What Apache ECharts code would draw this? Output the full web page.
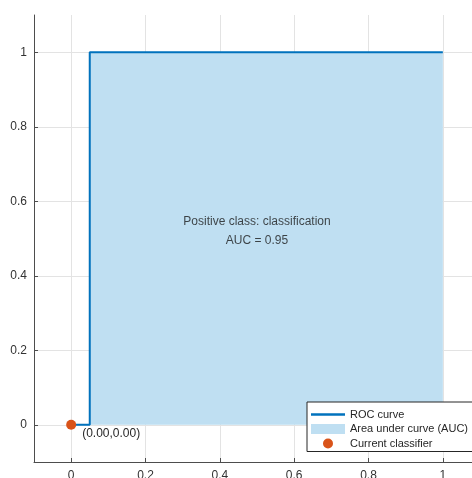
<!DOCTYPE html>
<html>
<head>
<meta charset="utf-8">
<script src="https://cdn.jsdelivr.net/npm/echarts@6/dist/echarts.min.js"></script>
<style>
  html, body { margin: 0; padding: 0; background: #fff; }
  #chart { width: 472px; height: 478px; }
</style>
</head>
<body>
<div id="chart"></div>
<script>
// ROC curve points (false positive rate, true positive rate)
const fpr = [0, 0.05, 0.05, 1];
const tpr = [0, 0, 1, 1];
// operating point of the current classifier
const classifierPoint = [0, 0];
// tick values on both axes
const tickValues = [0, 0.2, 0.4, 0.6, 0.8, 1];
const axisRange = [-0.1, 1.1];
// legend entries and annotation text
const seriesNames = ['ROC curve', 'Area under curve (AUC)', 'Current classifier'];
const positiveClass = 'classification';
const aucValue = 0.95;
const annotationPos = [0.5, 0.52];

const FONT = 'Arial, "Liberation Sans", Helvetica, sans-serif';
const rocData = fpr.map((x, i) => [x, tpr[i]]);

function makeAxis(isX) {
  return {
    type: 'value',
    min: axisRange[0],
    max: axisRange[1],
    axisLine: { show: true, onZero: false, lineStyle: { color: '#4d4d4d', width: 1 } },
    axisTick: { show: true, inside: true, length: 4, customValues: tickValues, lineStyle: { color: '#4d4d4d' } },
    axisLabel: {
      customValues: tickValues,
      margin: isX ? 8 : 7,
      color: '#333',
      fontSize: 12,
      fontFamily: FONT,
      formatter: v => String(Math.round(v * 10) / 10)
    },
    splitLine: { show: true, lineStyle: { color: '#e3e3e3', width: 1 } }
  };
}

const chart = echarts.init(document.getElementById('chart'), null, { renderer: 'canvas' });
chart.setOption({
  animation: false,
  backgroundColor: '#fff',
  grid: { left: 34, top: 15, width: 446, height: 447, containLabel: false, outerBoundsMode: 'none' },
  xAxis: makeAxis(true),
  yAxis: makeAxis(false),
  legend: {
    orient: 'vertical',
    left: 307,
    top: 402,
    padding: [5.5, 5, 1, 4],
    itemWidth: 34,
    itemHeight: 10,
    itemGap: 0.5,
    backgroundColor: '#fff',
    borderColor: '#262626',
    borderWidth: 1,
    borderRadius: 0,
    symbolKeepAspect: true,
    textStyle: { fontSize: 11, lineHeight: 14, color: '#262626', fontFamily: FONT },
    data: [
      { name: seriesNames[0], icon: 'path://M0,0H36V2.8H0Z' },
      { name: seriesNames[1], icon: 'rect' },
      { name: seriesNames[2], icon: 'circle' }
    ]
  },
  series: [
    {
      name: seriesNames[1],
      type: 'line',
      data: rocData,
      symbol: 'none',
      z: 1,
      itemStyle: { color: '#bfdff2' },
      lineStyle: { width: 0, color: '#bfdff2' },
      areaStyle: { color: '#bfdff2', opacity: 1, origin: 0 }
    },
    {
      name: seriesNames[0],
      type: 'line',
      data: rocData,
      symbol: 'none',
      z: 3,
      itemStyle: { color: '#0072bd' },
      lineStyle: { width: 2, color: '#0072bd' }
    },
    {
      name: seriesNames[2],
      type: 'scatter',
      data: [classifierPoint],
      symbol: 'circle',
      symbolSize: 10,
      z: 4,
      itemStyle: { color: '#d95319', opacity: 1 },
      label: {
        show: true,
        position: [16, 14],
        align: 'left',
        verticalAlign: 'middle',
        color: '#262626',
        fontSize: 12,
        fontFamily: FONT,
        formatter: p => '(' + p.value[0].toFixed(2) + ',' + p.value[1].toFixed(2) + ')'
      }
    },
    {
      name: 'annotation',
      type: 'scatter',
      data: [annotationPos],
      symbolSize: 0,
      silent: true,
      z: 5,
      label: {
        show: true,
        position: 'inside',
        align: 'center',
        verticalAlign: 'middle',
        color: '#1a1a1a',
        fontSize: 12,
        lineHeight: 19,
        fontFamily: FONT,
        formatter: () => 'Positive class: ' + positiveClass + '\nAUC = ' + aucValue.toFixed(2)
      }
    }
  ]
});
</script>
</body>
</html>
